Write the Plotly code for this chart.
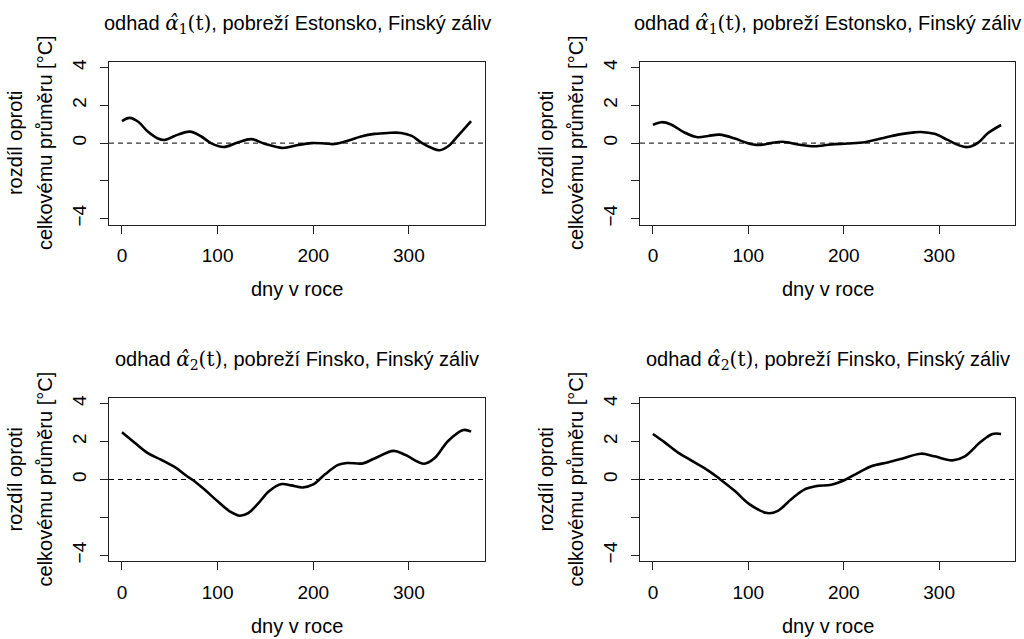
import plotly.graph_objects as go

# ---- data ----
days_a1_left = [0, 8, 17, 27, 37, 45, 55, 71, 83, 93, 106, 121, 135, 149, 168, 184, 198, 212, 222, 236, 250, 264, 278, 292, 303, 313, 324, 332, 341, 352, 365]
vals_a1_left = [1.17, 1.34, 1.13, 0.61, 0.26, 0.17, 0.38, 0.61, 0.35, 0.0, -0.21, 0.03, 0.21, -0.03, -0.26, -0.10, 0.0, -0.02, -0.05, 0.12, 0.35, 0.49, 0.54, 0.54, 0.38, 0.03, -0.26, -0.38, -0.17, 0.43, 1.17]

days_a1_right = [0, 9, 19, 33, 47, 58, 70, 86, 98, 110, 124, 136, 152, 169, 187, 204, 222, 239, 257, 274, 281, 295, 309, 321, 330, 341, 351, 365]
vals_a1_right = [0.97, 1.11, 0.99, 0.56, 0.31, 0.38, 0.45, 0.24, 0.02, -0.10, 0.0, 0.07, -0.07, -0.17, -0.07, -0.02, 0.05, 0.24, 0.45, 0.57, 0.59, 0.49, 0.17, -0.12, -0.21, 0.03, 0.52, 0.96]

days_a2_left = [0, 13, 27, 41, 55, 67, 74, 86, 100, 113, 123, 132, 142, 154, 167, 177, 189, 200, 212, 226, 236, 252, 264, 284, 296, 316, 327, 341, 357, 365]
vals_a2_left = [2.49, 1.95, 1.39, 1.04, 0.66, 0.21, -0.03, -0.52, -1.15, -1.69, -1.91, -1.77, -1.29, -0.61, -0.24, -0.31, -0.42, -0.26, 0.26, 0.77, 0.87, 0.85, 1.11, 1.51, 1.30, 0.83, 1.13, 2.03, 2.61, 2.52]

days_a2_right = [0, 12, 26, 40, 58, 70, 86, 101, 120, 131, 145, 159, 171, 187, 201, 215, 229, 246, 260, 281, 295, 314, 327, 344, 356, 365]
vals_a2_right = [2.40, 1.97, 1.43, 1.01, 0.47, 0.03, -0.61, -1.30, -1.77, -1.65, -1.04, -0.52, -0.35, -0.28, -0.03, 0.35, 0.70, 0.90, 1.08, 1.36, 1.22, 1.01, 1.22, 2.00, 2.40, 2.40]

x_ticks = [0, 100, 200, 300]
y_ticks = [-4, -2, 0, 2, 4]
y_tick_text = ["\u22124", "", "0", "2", "4"]

SERIF = "'DejaVu Serif'"
title_a1 = 'odhad <span style="font-family:' + SERIF + '"><i>\u03b1\u0302</i><sub>1</sub>(t)</span>, pobreží Estonsko, Finský záliv'
title_a2 = 'odhad <span style="font-family:' + SERIF + '"><i>\u03b1\u0302</i><sub>2</sub>(t)</span>, pobreží Finsko, Finský záliv'
x_label = "dny v roce"
y_label_lines = ["rozdíl oproti", "celkovému průměru [°C]"]

panels = [
    (days_a1_left, vals_a1_left, title_a1),
    (days_a1_right, vals_a1_right, title_a1),
    (days_a2_left, vals_a2_left, title_a2),
    (days_a2_right, vals_a2_right, title_a2),
]

W, H = 1024, 639
# plot boxes in pixels: (left, right, top, bottom)
boxes = [(109, 485, 60, 224), (640, 1015, 60, 224), (109, 485, 398, 563), (640, 1015, 398, 563)]

FONT = "Liberation Sans, Arial, sans-serif"
fig = go.Figure()
layout = dict(
    width=W, height=H, margin=dict(l=0, r=0, t=0, b=0),
    paper_bgcolor="white", plot_bgcolor="white", showlegend=False,
    font=dict(family=FONT, size=19, color="black"),
)
annotations = []
shapes = []
for i, ((d, v, title), (l, r, t, b)) in enumerate(zip(panels, boxes)):
    n = "" if i == 0 else str(i + 1)
    xa, ya = "x" + n, "y" + n
    fig.add_trace(go.Scatter(x=d, y=v, mode="lines", xaxis=xa, yaxis=ya,
                             line=dict(color="black", width=2.6, shape="spline", smoothing=1.0),
                             hoverinfo="skip"))
    dom_x = [l / W, r / W]
    dom_y = [1 - b / H, 1 - t / H]
    layout["xaxis" + n] = dict(
        domain=dom_x, anchor=ya, range=[1 - 0.04 * 364, 365 + 0.04 * 364],
        tickvals=x_ticks, ticks="outside", ticklen=8, tickwidth=1, tickcolor="#222",
        showline=True, linecolor="#222", linewidth=1, mirror=True,
        showgrid=False, zeroline=False, ticklabelstandoff=6,
        tickfont=dict(family=FONT, size=19),
    )
    layout["yaxis" + n] = dict(
        domain=dom_y, anchor=xa, range=[-4.32, 4.32],
        tickvals=y_ticks, ticktext=y_tick_text, tickangle=-90,
        ticks="outside", ticklen=8, tickwidth=1, tickcolor="#222",
        showline=True, linecolor="#222", linewidth=1, mirror=True,
        showgrid=False, zeroline=False, ticklabelstandoff=6,
        tickfont=dict(family=FONT, size=19),
    )
    # dashed zero line
    shapes.append(dict(type="line", xref=xa + " domain", yref=ya, x0=0, x1=1, y0=0, y1=0,
                       line=dict(color="black", width=1, dash="5px,4px")))
    cx = (l + r) / 2 / W
    # title
    annotations.append(dict(text=title, x=cx, y=1 - (t - 38) / H, xref="paper", yref="paper",
                            xanchor="center", yanchor="middle", showarrow=False,
                            font=dict(family=FONT, size=20, color="black")))
    # x label
    annotations.append(dict(text=x_label, x=cx, y=1 - (b + 65) / H, xref="paper", yref="paper",
                            xanchor="center", yanchor="middle", showarrow=False,
                            font=dict(family=FONT, size=20, color="black")))
    # y label (two lines)
    for k, (line_txt, off) in enumerate(zip(y_label_lines, [94, 64])):
        annotations.append(dict(text=line_txt, x=(l - off) / W, y=1 - (t + b) / 2 / H,
                                xref="paper", yref="paper",
                                xanchor="center", yanchor="middle", showarrow=False, textangle=-90,
                                font=dict(family=FONT, size=20, color="black")))

layout["annotations"] = annotations
layout["shapes"] = shapes
fig.update_layout(**layout)
fig.write_html("out.html")
